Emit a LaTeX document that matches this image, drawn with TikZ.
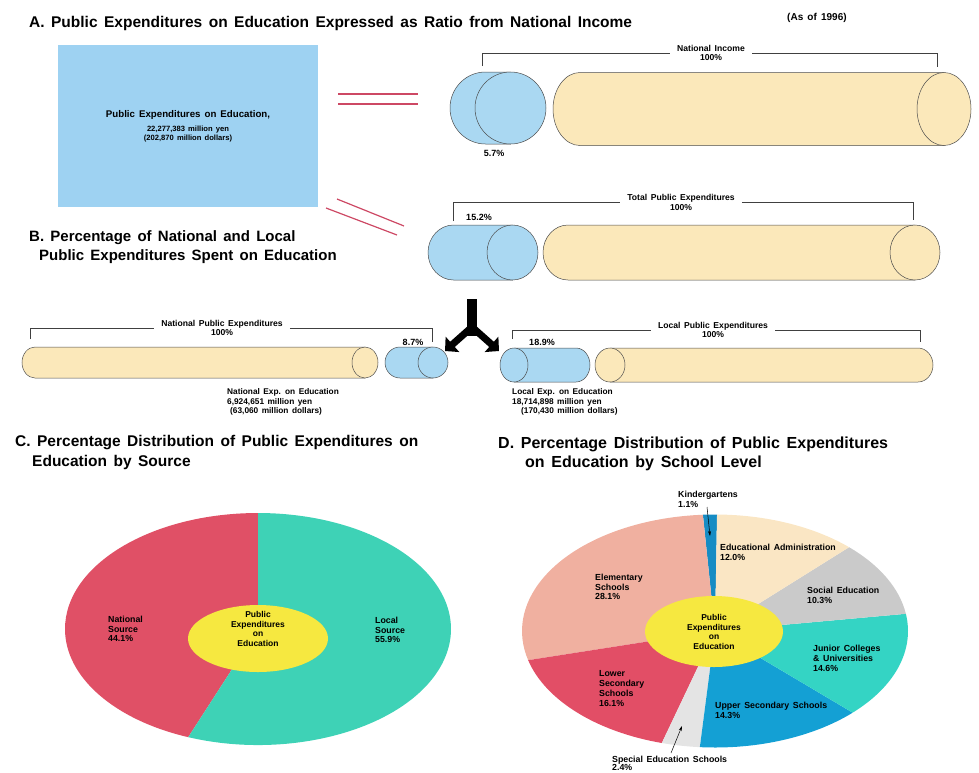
\documentclass[tikz,border=0pt]{standalone}
\usepackage{fontspec}
\setmainfont{Liberation Sans}[WordSpace=1.5]
\usepackage{tikz}
\usetikzlibrary{positioning, calc, arrows.meta, shapes.geometric}

\definecolor{cylblue}{RGB}{170,216,242}
\definecolor{boxblue}{RGB}{158,210,242}
\definecolor{cylsand}{RGB}{251,232,186}
\definecolor{linkred}{RGB}{205,72,100}
\definecolor{srcred}{RGB}{224,80,102}
\definecolor{srcteal}{RGB}{62,210,182}
\definecolor{hubyellow}{RGB}{246,232,64}
\definecolor{kgblue}{RGB}{22,140,196}
\definecolor{admcream}{RGB}{250,230,196}
\definecolor{socgray}{RGB}{202,202,202}
\definecolor{jcturq}{RGB}{52,212,196}
\definecolor{usblue}{RGB}{20,160,212}
\definecolor{spgray}{RGB}{228,228,228}
\definecolor{lscrimson}{RGB}{226,78,102}
\definecolor{elsalmon}{RGB}{240,176,160}

% cylinder lying on its side: left x, right x, mid y, x radius, y radius, fill
\newcommand{\cylR}[6]{% end face on the right
  \filldraw[cylline, fill=#6] ({#2-#4},{#3-#5}) -- ({#1+#4},{#3-#5})
    arc[start angle=270, end angle=90, x radius=#4, y radius=#5]
    -- ({#2-#4},{#3+#5}) -- cycle;
  \filldraw[cylline, fill=#6] ({#2-#4},#3) ellipse [x radius=#4, y radius=#5];
}
\newcommand{\cylL}[6]{% end face on the left
  \filldraw[cylline, fill=#6] ({#1+#4},{#3-#5}) -- ({#2-#4},{#3-#5})
    arc[start angle=-90, end angle=90, x radius=#4, y radius=#5]
    -- ({#1+#4},{#3+#5}) -- cycle;
  \filldraw[cylline, fill=#6] ({#1+#4},#3) ellipse [x radius=#4, y radius=#5];
}

\begin{document}
\begin{tikzpicture}[
  x=1pt, y=-1pt,
  cylline/.style={draw=black!70, line width=0.5pt},
  bracket/.style={draw=black!75, line width=0.5pt},
  redlink/.style={draw=linkred, line width=1.2pt},
  heading/.style={font=\fontsize{15.5}{19.5}\selectfont\bfseries, anchor=west, align=left, inner sep=0pt},
  brk/.style={font=\fontsize{8.6}{9.8}\selectfont\bfseries, align=center, inner xsep=7pt, inner ysep=0pt},
  pct/.style={font=\fontsize{9}{10}\selectfont\bfseries, inner sep=0pt},
  lbl/.style={font=\fontsize{8.8}{9.7}\selectfont\bfseries, align=left, anchor=west, inner sep=0pt},
  hub/.style={ellipse, fill=hubyellow, inner sep=0pt},
  hubtxt/.style={font=\fontsize{8.5}{9.8}\selectfont\bfseries, align=center, inner sep=0pt},
  ptr/.style={draw=black, line width=0.5pt, -{Stealth[length=5pt, width=3pt]}},
]
  \useasboundingbox (0,0) rectangle (979,772);

  % (A) ratio from national income
  \node[heading] (titleA) at (29,23)
    {A. Public Expenditures on Education Expressed as Ratio from National Income};
  \node[font=\fontsize{10}{12}\selectfont\bfseries, anchor=west, inner sep=0pt] (asOf) at (787,18) {(As of 1996)};

  \node[fill=boxblue, minimum width=260pt, minimum height=162pt, align=center,
        font=\fontsize{7.6}{8.4}\selectfont\bfseries] (eduBox) at (188,126)
    {{\fontsize{9.7}{11}\selectfont Public Expenditures on Education,}\\[6pt]
     22,277,383 million yen\\(202,870 million dollars)};

  % red links box -> cylinders
  \foreach \y in {94,104} {
    \draw[redlink] (338,\y) -- (418,\y);
  }
  \draw[redlink] (337,199) -- (404,226);
  \draw[redlink] (326,208) -- (397,235);

  \cylR{450}{546}{108}{35.5}{36}{cylblue}
  \cylR{553}{971}{109}{27}{36.5}{cylsand}
  \node[pct] (pctA) at (494,153) {5.7\%};
  \node[brk] (niLbl) at (711,53) {National Income\\100\%};
  \coordinate (niL) at (482,66);
  \coordinate (niR) at (937,67);
  \draw[bracket] (niL) |- (niLbl.west);
  \draw[bracket] (niLbl.east) -| (niR);

  % (B) national / local split
  \node[heading, font=\fontsize{15}{19.5}\selectfont\bfseries] (titleB) at (29,247)
    {B. Percentage of National and Local\\\hspace*{10pt}Public Expenditures Spent on Education};

  \cylR{428}{538}{252.5}{25.5}{27.5}{cylblue}
  \cylR{543}{940}{252.5}{25}{27.5}{cylsand}
  \node[pct] (pctB) at (479,217) {15.2\%};
  \node[brk] (tpLbl) at (681,202.5) {Total Public Expenditures\\100\%};
  \coordinate (tpL) at (453,221);
  \coordinate (tpR) at (913,220);
  \draw[bracket] (tpL) |- (tpLbl.west);
  \draw[bracket] (tpLbl.east) -| (tpR);

  % Y-shaped split arrow
  \coordinate (splitTop) at (472,299);
  \coordinate (splitMid) at (472,336);
  \coordinate (splitFork) at (472,327);
  \coordinate (splitL) at (445,351);
  \coordinate (splitR) at (499,351);
  \draw[line width=10pt] (splitTop) -- (splitMid);
  \foreach \e in {splitL, splitR} {
    \draw[line width=7pt, -{Triangle[length=10pt, width=20pt]}] (splitFork) -- (\e);
  }

  % national side
  \cylR{22}{378}{362.5}{13}{15.5}{cylsand}
  \cylR{385}{448}{362.5}{15}{15.5}{cylblue}
  \node[pct] (pctN) at (413,342) {8.7\%};
  \node[brk] (npLbl) at (222,328) {National Public Expenditures\\100\%};
  \coordinate (npL) at (30,339);
  \coordinate (npR) at (432,342);
  \draw[bracket] (npL) |- (npLbl.west);
  \draw[bracket] (npLbl.east) -| (npR);
  \node[lbl, font=\fontsize{8.3}{9.8}\selectfont\bfseries] (npEdu) at (227,402)
    {National Exp. on Education\\6,924,651 million yen\\\hspace*{3pt}(63,060 million dollars)};

  % local side
  \cylL{500}{590}{365}{14}{17}{cylblue}
  \cylL{595}{933}{365}{15}{17}{cylsand}
  \node[pct] (pctL) at (542,342) {18.9\%};
  \node[brk] (lpLbl) at (713,330) {Local Public Expenditures\\100\%};
  \coordinate (lpL) at (512,339);
  \coordinate (lpR) at (920,342);
  \draw[bracket] (lpL) |- (lpLbl.west);
  \draw[bracket] (lpLbl.east) -| (lpR);
  \node[lbl, font=\fontsize{8.3}{9.8}\selectfont\bfseries] (lpEdu) at (512,402)
    {Local Exp. on Education\\18,714,898 million yen\\\hspace*{9pt}(170,430 million dollars)};

  % (C) by source
  \node[heading] (titleC) at (15,452.5)
    {C. Percentage Distribution of Public Expenditures on\\\hspace*{17pt}Education by Source};
  \begin{scope}[shift={(258,629)}, yscale=-1]
    \foreach \a/\b/\c in {90/248.8/srcred, 248.8/450/srcteal} {
      \fill[\c] (0,0) -- (\a:193 and 116)
        arc[start angle=\a, end angle=\b, x radius=193, y radius=116] -- cycle;
    }
  \end{scope}
  \node[hub, minimum width=140pt, minimum height=67pt] (srcHub) at (258,638.5) {};
  \node[hubtxt] (srcHubTxt) at (258,629) {Public\\Expenditures\\on\\Education};
  \node[lbl] (natSrc) at (108,629) {National\\Source\\44.1\%};
  \node[lbl] (locSrc) at (375,630) {Local\\Source\\55.9\%};

  % (D) by school level
  \node[heading, font=\fontsize{16}{19}\selectfont\bfseries] (titleD) at (498,454)
    {D. Percentage Distribution of Public Expenditures\\\hspace*{27pt}on Education by School Level};
  \begin{scope}[shift={(715,631)}, yscale=-1]
    \foreach \a/\b/\c in {89.4/93.6/kgblue, 93.6/194.5/elsalmon, 194.5/254/lscrimson,
                          254/265.5/spgray, 265.5/315.5/usblue, 315.5/368.5/jcturq,
                          368.5/406/socgray, 406/449.4/admcream} {
      \fill[\c] (0,0) -- (\a:193 and 116.5)
        arc[start angle=\a, end angle=\b, x radius=193, y radius=116.5] -- cycle;
    }
  \end{scope}
  \node[hub, minimum width=138pt, minimum height=71pt] (lvlHub) at (714,631.5) {};
  \node[hubtxt] (lvlHubTxt) at (714,632) {Public\\Expenditures\\on\\Education};

  \node[lbl] (kgLbl) at (678,499.5) {Kindergartens\\1.1\%};
  \node[lbl] (admLbl) at (720,552) {Educational Administration\\12.0\%};
  \node[lbl] (elLbl) at (595,587) {Elementary\\Schools\\28.1\%};
  \node[lbl] (socLbl) at (807,595) {Social Education\\10.3\%};
  \node[lbl] (jcLbl) at (813,658.5) {Junior Colleges\\\& Universities\\14.6\%};
  \node[lbl] (lsLbl) at (599,688.5) {Lower\\Secondary\\Schools\\16.1\%};
  \node[lbl] (usLbl) at (715,710.5) {Upper Secondary Schools\\14.3\%};
  \node[lbl, font=\fontsize{8.8}{8.6}\selectfont\bfseries] (spLbl) at (612,763.5)
    {Special Education Schools\\2.4\%};

  \coordinate (kgTail) at (707,507);
  \coordinate (kgTip) at (710,536);
  \coordinate (spTail) at (671,753);
  \coordinate (spTip) at (682,726);
  \draw[ptr] (kgTail) -- (kgTip);
  \draw[ptr] (spTail) -- (spTip);
\end{tikzpicture}
\end{document}
